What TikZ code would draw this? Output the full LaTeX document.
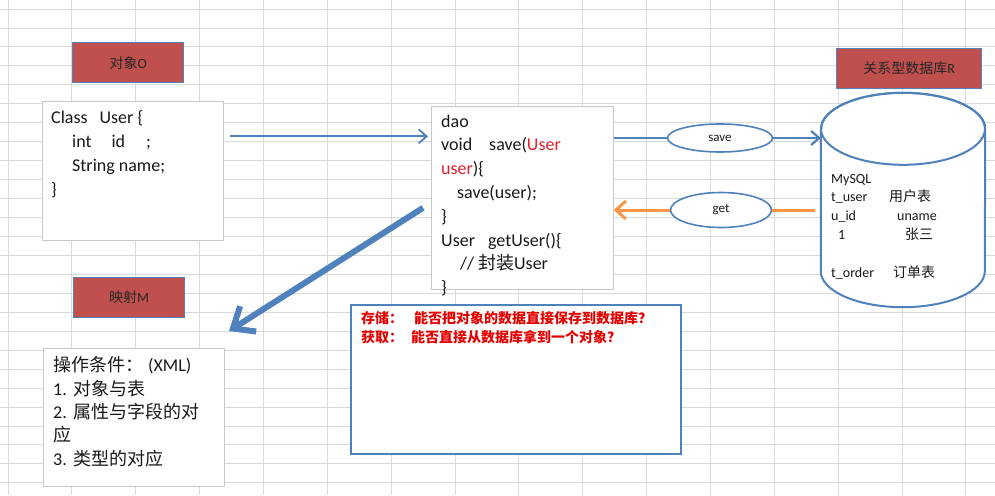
\documentclass[tikz,border=0pt]{standalone}
\usepackage{fontspec}
\setmainfont{Carlito}
\newfontfamily\cjk{Noto Sans CJK SC}
\usetikzlibrary{positioning,arrows.meta,shapes.geometric,calc}
\definecolor{xlblue}{HTML}{4F81BD}
\definecolor{xlred}{HTML}{C0504D}
\definecolor{xlorange}{HTML}{F79646}
\definecolor{gridgray}{HTML}{D9D9D9}
\definecolor{boxgray}{HTML}{C8C8C8}
\definecolor{txtred}{HTML}{E3202A}

\begin{document}
\begin{tikzpicture}[
    x=1pt, y=-1pt,
    every node/.style={font=\fontsize{14}{17}\selectfont, text=black!90},
    gridline/.style={draw=gridgray, line width=0.8pt},
    tag/.style={
        draw=xlblue, fill=xlred, line width=1.3pt,
        minimum width=111pt, minimum height=40pt,
        anchor=north west, text=black!85
    },
    sheet/.style={draw=boxgray, fill=white, line width=0.7pt, anchor=north west},
    % multi-line text: placed at the baseline of its last line
    code/.style={anchor=base west, align=left, inner sep=0pt, font=\fontsize{18}{24}\selectfont},
    bubble/.style={
        ellipse, draw=xlblue, fill=white, line width=1.6pt,
        inner sep=0pt, font=\fontsize{13}{15}\selectfont
    },
    dbedge/.style={draw=xlblue, line width=2pt},
    arr/.style={-{Straight Barb[length=8pt,width=14pt]}, draw=xlblue, line width=1.8pt},
    bigarr/.style={-{Straight Barb[length=18pt,width=30pt]}, draw=xlblue, line width=6pt},
    getarr/.style={-{Straight Barb[length=10pt,width=18pt]}, draw=xlorange, line width=3pt},
]

% === Sheet background ===
\fill[white] (0,0) rectangle (995,495);
\useasboundingbox (0,0) rectangle (995,495);
\foreach \i in {0,...,15}
    \draw[gridline] (8+63.85*\i,0) -- (8+63.85*\i,495);
\foreach \j in {0,...,25}
    \draw[gridline] (0,9+18.95*\j) -- (995,9+18.95*\j);

% === Object O ===
\node[tag] (objtag) at (72,42) {{\cjk 对象}O};
\node[sheet, minimum width=181pt, minimum height=139pt] (cls) at (42,101) {};
\node[code] (clstext) at (51,195) {
    Class\hspace{12pt}User \{\\
    \hspace*{21pt}int\hspace{20pt}id\hspace{21pt};\\
    \hspace*{21pt}String name;\\
    \}
};

% === DAO ===
\node[sheet, minimum width=182pt, minimum height=183pt] (dao) at (431,106) {};
\node[code, font=\fontsize{18}{23.8}\selectfont] (daotext) at (441,293.6) {
    dao\\
    void\hspace{17pt}save({\color{txtred}User}\\
    {\color{txtred}user})\{\\
    \hspace*{16pt}save(user);\\
    \}\\
    User\hspace{13pt}getUser()\{\\
    \hspace*{19pt}// {\cjk 封装}User\\
    \}
};

% === Relational database R ===
\node[tag, minimum width=145pt] (dbtag) at (836,48) {{\cjk 关系型数据库}R};
\node[minimum width=164pt, minimum height=214pt, inner sep=0pt] (db) at (903,200) {};
\filldraw[dbedge, fill=white] ($(db.north west)+(0,36)$) -- ($(db.south west)-(0,36)$)
    arc[start angle=180, end angle=360, x radius=82pt, y radius=36pt]
    -- ($(db.north east)+(0,36)$)
    arc[start angle=0, end angle=180, x radius=82pt, y radius=36pt];
\draw[dbedge] ($(db.north)+(0,36)$) ellipse[x radius=82pt, y radius=36pt];
\node[code, font=\fontsize{14}{18.8}\selectfont] (dbtext) at (831,277) {
    MySQL\\
    \makebox[58pt][l]{t\_user}{\cjk 用户表}\\
    \makebox[66pt][l]{u\_id}uname\\
    \hspace*{7pt}\makebox[67pt][l]{1}{\cjk 张三}\\[18.8pt]
    \makebox[62pt][l]{t\_order}{\cjk 订单表}
};

% === save / get ===
\node[bubble, minimum width=105pt, minimum height=28pt] (save) at (720,138) {save};
\node[bubble, minimum width=101pt, minimum height=35pt] (get) at (721,210) {get};

% === Mapping M ===
\node[tag] (maptag) at (73,277) {{\cjk 映射}M};
\node[sheet, minimum width=181pt, minimum height=138pt] (cond) at (43,348) {};
\node[code, font=\fontsize{18}{23.3}\selectfont] (condtext) at (53,465) {
    {\cjk 操作条件：}\hspace{5pt}(XML)\\
    1.\hspace{7pt}{\cjk 对象与表}\\
    2.\hspace{7pt}{\cjk 属性与字段的对}\\
    {\cjk 应}\\
    3.\hspace{7pt}{\cjk 类型的对应}
};

% === Questions ===
\node[draw=xlblue, fill=white, line width=2pt, anchor=north west,
    minimum width=330pt, minimum height=149pt] (ask) at (350,304) {};
\node[code, font=\fontsize{14}{19}\selectfont\cjk\bfseries, text=red!90!black] (asktext) at (361,342) {
    存储：\hspace{11pt}能否把对象的数据直接保存到数据库？\\
    获取：\hspace{8pt}能否直接从数据库拿到一个对象？
};

% === Arrows ===
\coordinate (clsout) at ($(cls.east)+(0,-34.5)$);
\draw[arr, shorten <=6pt, shorten >=3pt] (clsout) -- (clsout -| dao.west);

\draw[xlblue, line width=2.2pt] (dao.east |- save) -- (save);
\draw[arr, line width=2.2pt] (save) -- (save -| db.west);

\draw[xlorange, line width=3pt, shorten <=6pt] (db.west |- get) -- (get);
\draw[getarr] (get) -- (get -| dao.east);

\coordinate (mapin) at (229,331);
\draw[bigarr] ($(dao.west)+(-8,10)$) -- (mapin);

\end{tikzpicture}
\end{document}
